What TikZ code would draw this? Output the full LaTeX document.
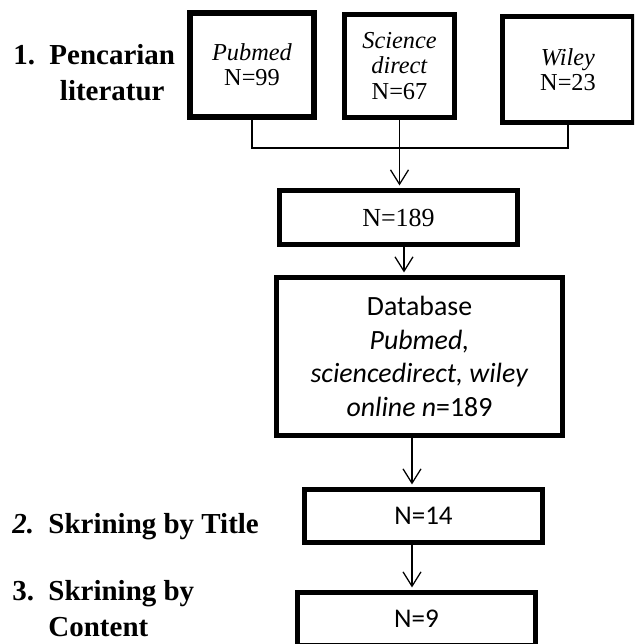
\documentclass[tikz,border=0pt]{standalone}
\usepackage{fontspec}
\setmainfont{Liberation Serif}
\newfontfamily\calibri{Carlito}
\usepackage{tikz}
\usetikzlibrary{arrows.meta}
\usetikzlibrary{calc}

\begin{document}
\begin{tikzpicture}[x=0.025cm, y=-0.025cm,
        box_style/.style={rectangle,draw=black,line width=3.6pt,align=center,inner sep=2pt,
                font=\fontsize{17.3pt}{18pt}\selectfont},
        wide_box_style/.style={box_style,minimum width=5.95cm,minimum height=1.325cm},
        label_style/.style={inner sep=0pt,font=\fontsize{20.6pt}{25.6pt}\selectfont\bfseries},
        edge_style/.style={draw=black,line width=0.9pt,shorten >=1.8pt,
                -{Straight Barb[length=0.36cm,width=0.45cm,line width=0.9pt]}},
        link_style/.style={draw=black,line width=0.9pt}]

        \useasboundingbox (0,0) rectangle (634,644);
        \clip (0,0) rectangle (634,644);

        % sources
        \node [box_style,line width=4.2pt,minimum width=3.1cm,minimum height=2.6cm](n1) at (252,65) {\textit{Pubmed}\\N=99};

        \node [box_style,minimum width=2.75cm,minimum height=2.575cm](n2) at (399.5,66) {\textit{Science}\\\textit{direct}\\N=67};

        \node [box_style,minimum width=3.275cm,minimum height=2.65cm](n3) at (568,69.5) {\textit{Wiley}\\N=23};

        % flow
        \node [wide_box_style,minimum height=1.35cm,font=\fontsize{18.5pt}{19pt}\selectfont](n4) at (398.5,217.5) {N=189};

        \node [box_style,minimum width=7.15cm,minimum height=3.95cm,font=\calibri\fontsize{19.8pt}{23.8pt}\selectfont](n5) at (419.5,356.5)
            {Database\\\textit{Pubmed,}\\\textit{sciencedirect, wiley}\\\textit{online} \textit{n}=189};

        \node [wide_box_style,font=\calibri\fontsize{19.2pt}{23.8pt}\selectfont](n6) at (423.5,516) {N=14};

        \node [wide_box_style,font=\calibri\fontsize{19.2pt}{23.8pt}\selectfont](n7) at (416.5,619) {N=9};

        % steps
        \node [label_style,anchor=base west](t1) at (13,65)
            {\begin{tabular}[t]{@{}l@{\hspace{0.5em}}c@{}}1. & Pencarian\\ & literatur\end{tabular}};

        \node [label_style,anchor=base west](t2) at (12,533)
            {\begin{tabular}[t]{@{}l@{\hspace{0.5em}}l@{}}\textit{2.} & Skrining by Title\end{tabular}};

        \node [label_style,anchor=base west](t3) at (12,600)
            {\begin{tabular}[t]{@{}l@{\hspace{0.5em}}l@{}}3. & Skrining by\\ & Content\end{tabular}};

        \coordinate (bar) at (0,148);
        \coordinate (ax1) at (404,0);
        \coordinate (ax2) at (412,0);

        \draw [link_style] (n1.south) |- (bar -| n3.south) -- (n3.south);

        \draw [edge_style] (n2.south) -- (n2.south |- n4.north);

        \draw [edge_style] (n4.south -| ax1) -- (n5.north -| ax1);

        \draw [edge_style] (n5.south -| ax2) -- (n6.north -| ax2);

        \draw [edge_style] (n6.south -| ax2) -- (n7.north -| ax2);

        \end{tikzpicture}
\end{document}
